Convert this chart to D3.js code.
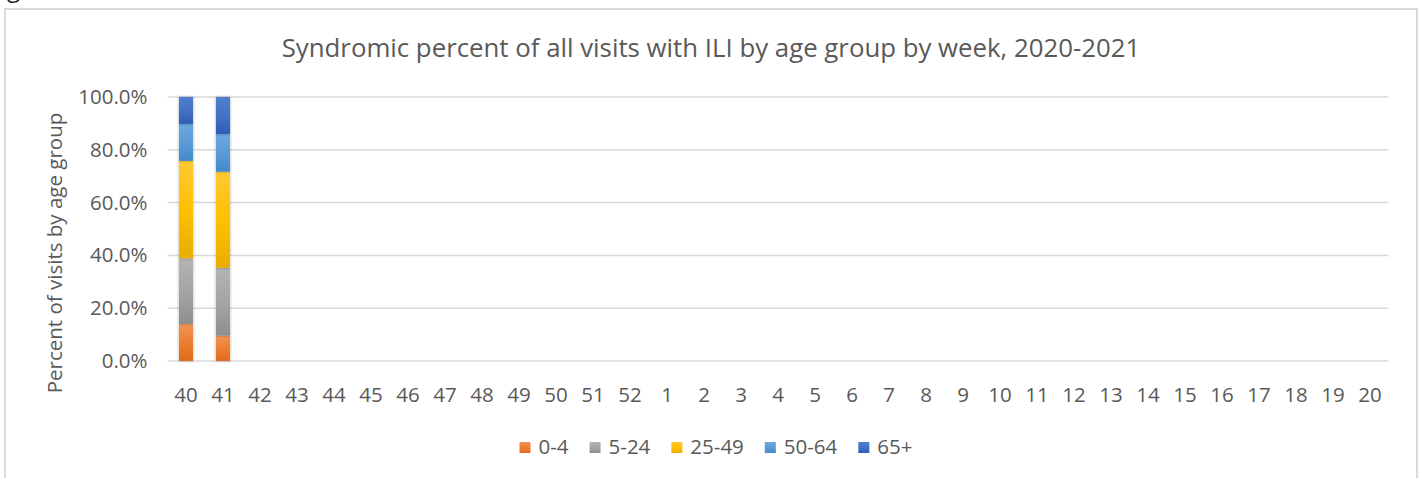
<!DOCTYPE html>
<html>
<head>
<meta charset="utf-8">
<script src="https://cdn.jsdelivr.net/npm/d3@7"></script>
<style>
  html, body { margin: 0; padding: 0; background: #fff; }
  svg { display: block; font-family: "Open Sans", "Noto Sans", sans-serif; }
</style>
</head>
<body>
<svg id="chart" width="1424" height="478"></svg>
<script>
// week labels on the x axis (season 2020-2021)
const weeks = ["40","41","42","43","44","45","46","47","48","49","50","51","52",
  "1","2","3","4","5","6","7","8","9","10","11","12","13","14","15","16","17","18","19","20"];
const ageGroups = ["0-4", "5-24", "25-49", "50-64", "65+"];
const yTicks = [0, 20, 40, 60, 80, 100];

// only weeks 40 and 41 have data, percent of visits per age group
const dataWeeks = ["40", "41"];
const pct0to4 = [14.0, 9.6];
const pct5to24 = [24.9, 25.7];
const pct25to49 = [36.9, 36.4];
const pct50to64 = [14.0, 14.2];
const pct65plus = [10.2, 14.1];

const colors = ["#ED7D31", "#A5A5A5", "#FFC000", "#5B9BD5", "#4472C4"];
const colorsTop = ["#F2955A", "#B4B4B4", "#FFC935", "#6CA8DE", "#5080CF"];
const colorsBottom = ["#E16C1F", "#8E8E8E", "#E8AE00", "#4389CB", "#2F5CB6"];

const svg = d3.select("#chart");
const textColor = "#595959";
const gridColor = "#d9d9d9";

// rows for the stack
const rows = dataWeeks.map((w, i) => ({
  week: w,
  "0-4": pct0to4[i],
  "5-24": pct5to24[i],
  "25-49": pct25to49[i],
  "50-64": pct50to64[i],
  "65+": pct65plus[i]
}));

const margin = { left: 167.5, right: 1388.5, top: 97, bottom: 361 };

const x = d3.scaleBand()
  .domain(weeks)
  .range([margin.left, margin.right])
  .paddingInner(0.62)
  .paddingOuter(0.31);

const y = d3.scaleLinear()
  .domain([0, 100])
  .range([margin.bottom, margin.top]);

// gradients like excel
const defs = svg.append("defs");
ageGroups.forEach((g, i) => {
  const grad = defs.append("linearGradient")
    .attr("id", "grad" + i)
    .attr("x1", 0).attr("y1", 0).attr("x2", 0).attr("y2", 1);
  grad.append("stop").attr("offset", "0%").attr("stop-color", colorsTop[i]);
  grad.append("stop").attr("offset", "50%").attr("stop-color", colors[i]);
  grad.append("stop").attr("offset", "100%").attr("stop-color", colorsBottom[i]);
});
const blur = defs.append("filter").attr("id", "soft")
  .attr("x", "-30%").attr("y", "-5%").attr("width", "160%").attr("height", "110%");
blur.append("feGaussianBlur").attr("in", "SourceAlpha").attr("stdDeviation", 1.5).attr("result", "b");
blur.append("feOffset").attr("dx", 0).attr("dy", 0).attr("result", "o");
blur.append("feComponentTransfer").append("feFuncA").attr("type", "linear").attr("slope", 0.35);
const merge = blur.append("feMerge");
merge.append("feMergeNode");
merge.append("feMergeNode").attr("in", "SourceGraphic");

// cut off caption above the frame
svg.append("text")
  .attr("x", 7)
  .attr("y", -3)
  .attr("fill", "#222")
  .style("font-size", "24px")
  .text("g");

// chart frame
svg.append("rect")
  .attr("x", 5)
  .attr("y", 9)
  .attr("width", 1412)
  .attr("height", 490)
  .attr("fill", "#fff")
  .attr("stroke", gridColor)
  .attr("stroke-width", 2);

// title
svg.append("text")
  .attr("x", 711)
  .attr("y", 57)
  .attr("text-anchor", "middle")
  .attr("fill", textColor)
  .style("font-size", "25.8px")
  .text("Syndromic percent of all visits with ILI by age group by week, 2020-2021");

// gridlines
svg.append("g")
  .selectAll("line")
  .data(yTicks)
  .join("line")
  .attr("x1", margin.left)
  .attr("x2", margin.right)
  .attr("y1", d => y(d))
  .attr("y2", d => y(d))
  .attr("stroke", gridColor)
  .attr("stroke-width", 1.5);

// y axis labels
const yAxis = svg.append("g")
  .attr("transform", `translate(${margin.left - 20},0)`)
  .call(d3.axisLeft(y).tickValues(yTicks).tickSize(0).tickPadding(0)
    .tickFormat(d => d.toFixed(1) + "%"));
yAxis.select(".domain").remove();
yAxis.selectAll("text")
  .attr("fill", textColor)
  .style("font-family", "'Open Sans', 'Noto Sans', sans-serif")
  .style("font-size", "20.5px");

// x axis labels
const xAxis = svg.append("g")
  .attr("transform", `translate(0,${margin.bottom})`)
  .call(d3.axisBottom(x).tickSize(0).tickPadding(26));
xAxis.select(".domain").remove();
xAxis.selectAll("text")
  .attr("fill", textColor)
  .style("font-family", "'Open Sans', 'Noto Sans', sans-serif")
  .style("font-size", "20.5px");

// y axis title
svg.append("text")
  .attr("transform", `translate(62,${(margin.top + margin.bottom) / 2 + 24}) rotate(-90)`)
  .attr("text-anchor", "middle")
  .attr("fill", textColor)
  .style("font-size", "20.5px")
  .text("Percent of visits by age group");

// stacked bars
const stacked = d3.stack().keys(ageGroups)(rows);
svg.append("g")
  .selectAll("g")
  .data(stacked)
  .join("g")
  .attr("fill", (d, i) => `url(#grad${i})`)
  .selectAll("rect")
  .data(d => d)
  .join("rect")
  .attr("x", d => x(d.data.week))
  .attr("y", d => y(d[1]))
  .attr("width", x.bandwidth())
  .attr("height", d => y(d[0]) - y(d[1]))
  .attr("filter", "url(#soft)");

// legend
const legend = svg.append("g");
let lx = 0;
ageGroups.forEach((g, i) => {
  const item = legend.append("g");
  item.append("rect")
    .attr("x", 0).attr("y", -5)
    .attr("width", 11).attr("height", 11)
    .attr("fill", `url(#grad${i})`);
  const t = item.append("text")
    .attr("x", 19).attr("y", 0)
    .attr("dy", "0.35em")
    .attr("fill", textColor)
    .style("font-size", "20.5px")
    .text(g);
  item.attr("transform", `translate(${lx},0)`);
  lx += 19 + t.node().getComputedTextLength() + 21;
});
const legendWidth = lx - 21;
legend.attr("transform", `translate(${716 - legendWidth / 2},447)`);
</script>
</body>
</html>
